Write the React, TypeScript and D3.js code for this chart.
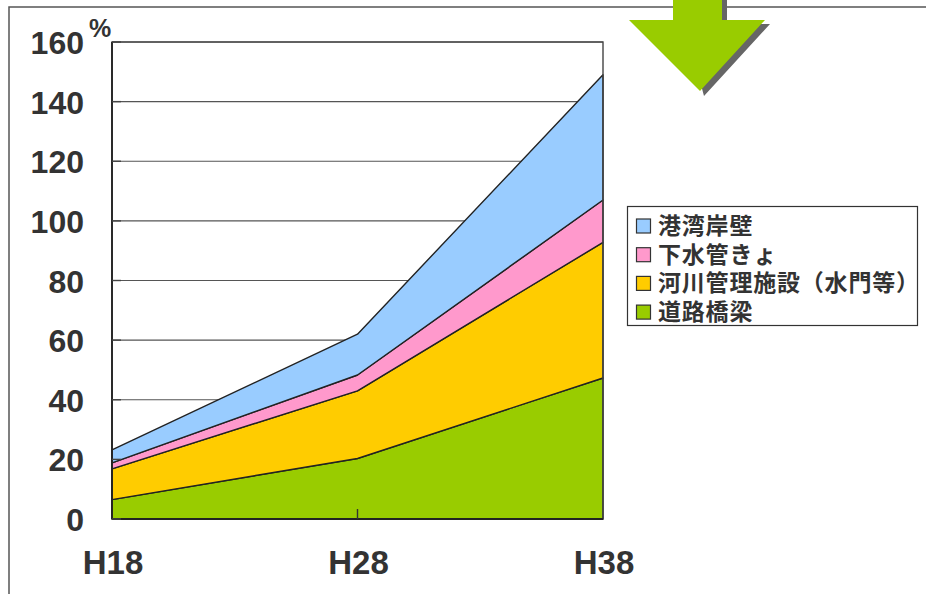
import React from "react";
import * as d3 from "d3";

// Fiscal-year points on the x axis
const years = ["H18", "H28", "H38"];

// Share (%) per facility type, stacked bottom to top
const roadBridges = [6.5, 20.3, 47.3];
const riverFacilities = [10.3, 22.7, 45.5];
const sewerPipes = [2.0, 5.3, 14.2];
const harborWalls = [4.4, 13.7, 42.0];

const seriesNames = ["道路橋梁", "河川管理施設（水門等）", "下水管きょ", "港湾岸壁"];
const seriesColors = ["#99CC00", "#FFCC00", "#FF99CC", "#99CCFF"];

const yTicks = [0, 20, 40, 60, 80, 100, 120, 140, 160];

const W = 926;
const H = 594;
const plot = { left: 112, right: 603, top: 42, bottom: 519 };

export default function App() {
  const seriesValues = [roadBridges, riverFacilities, sewerPipes, harborWalls];
  const rows = years.map((yr, i) => {
    const r: Record<string, number | string> = { year: yr };
    seriesNames.forEach((n, s) => (r[n] = seriesValues[s][i]));
    return r;
  });
  const stacked = d3.stack<any>().keys(seriesNames)(rows);

  const x = d3.scalePoint<string>().domain(years).range([plot.left, plot.right]);
  const y = d3.scaleLinear().domain([0, 160]).range([plot.bottom, plot.top]);

  const area = d3
    .area<any>()
    .x((d) => x(d.data.year) as number)
    .y0((d) => y(d[0]))
    .y1((d) => y(d[1]));

  const numFont = "'Liberation Sans', Arial, sans-serif";
  const jpFont = "'Noto Sans CJK JP', sans-serif";
  const ink = "#333333";

  // Legend lists the top series first
  const legendOrder = [3, 2, 1, 0];
  const legendLabels = ["港湾岸壁", "下水管きょ", "河川管理施設（水門等）", "道路橋梁"];

  return (
    <svg
      width={W}
      height={H}
      viewBox={`0 0 ${W} ${H}`}
      style={{ position: "fixed", left: 0, top: 0, background: "#fff" }}
    >
      <rect x={0} y={0} width={W} height={H} fill="#fff" />

      {/* outer frame */}
      <path d={`M9,${H} L9,7 L${W},7`} fill="none" stroke="#555" strokeWidth={1.5} />

      {/* gridlines */}
      {yTicks.map((t) => (
        <line
          key={`g${t}`}
          x1={plot.left}
          x2={plot.right}
          y1={y(t)}
          y2={y(t)}
          stroke="#555"
          strokeWidth={1.2}
        />
      ))}

      {/* stacked areas */}
      {stacked.map((s, i) => (
        <path
          key={s.key}
          d={area(s) as string}
          fill={seriesColors[i]}
          stroke="#222"
          strokeWidth={1.4}
          strokeLinejoin="round"
        />
      ))}

      {/* plot frame */}
      <rect
        x={plot.left}
        y={plot.top}
        width={plot.right - plot.left}
        height={plot.bottom - plot.top}
        fill="none"
        stroke="#444"
        strokeWidth={1.4}
      />
      <line x1={plot.left} x2={plot.left} y1={plot.top} y2={plot.bottom} stroke="#222" strokeWidth={1.8} />
      <line x1={plot.left} x2={plot.right} y1={plot.bottom} y2={plot.bottom} stroke="#222" strokeWidth={1.8} />

      {/* ticks */}
      {yTicks.map((t) => (
        <line
          key={`t${t}`}
          x1={plot.left}
          x2={plot.left + 9}
          y1={y(t)}
          y2={y(t)}
          stroke="#444"
          strokeWidth={1.4}
        />
      ))}
      {years.slice(1, -1).map((yr) => (
        <line
          key={`xt${yr}`}
          x1={x(yr)}
          x2={x(yr)}
          y1={plot.bottom}
          y2={plot.bottom - 10}
          stroke="#333"
          strokeWidth={1.4}
        />
      ))}

      {/* y labels */}
      {yTicks.map((t) => (
        <text
          key={`yl${t}`}
          x={84}
          y={y(t) + 12}
          textAnchor="end"
          fontFamily={numFont}
          fontWeight={700}
          fontSize={32}
          fill={ink}
        >
          {t}
        </text>
      ))}
      <text x={89} y={37} fontFamily={numFont} fontWeight={700} fontSize={25} fill={ink}>
        %
      </text>

      {/* x labels */}
      {years.map((yr) => (
        <text
          key={`xl${yr}`}
          x={(x(yr) as number) + 1}
          y={574}
          textAnchor="middle"
          fontFamily={numFont}
          fontWeight={700}
          fontSize={33}
          fill={ink}
        >
          {yr}
        </text>
      ))}

      {/* legend */}
      <rect x={627.5} y={206.5} width={290} height={119} fill="#fff" stroke="#333" strokeWidth={1.2} />
      {legendOrder.map((si, i) => {
        const cy = 226 + i * 28.7;
        return (
          <g key={`lg${si}`}>
            <rect x={636.5} y={cy - 7} width={14} height={14} fill={seriesColors[si]} stroke="#333" strokeWidth={1.2} />
            <text
              x={658}
              y={cy + 8}
              fontFamily={jpFont}
              fontWeight={700}
              fontSize={23}
              letterSpacing={0.8}
              fill={ink}
            >
              {legendLabels[i]}
            </text>
          </g>
        );
      })}

      {/* down arrow with drop shadow */}
      <g>
        <path d="M678,0 L727,0 L727,24 L770,24 L704,96 Z" fill="#666" />
        <path d="M673,0 L722,0 L722,20 L765,20 L700,91 L629,20 L673,20 Z" fill="#99CC00" />
      </g>
    </svg>
  );
}
